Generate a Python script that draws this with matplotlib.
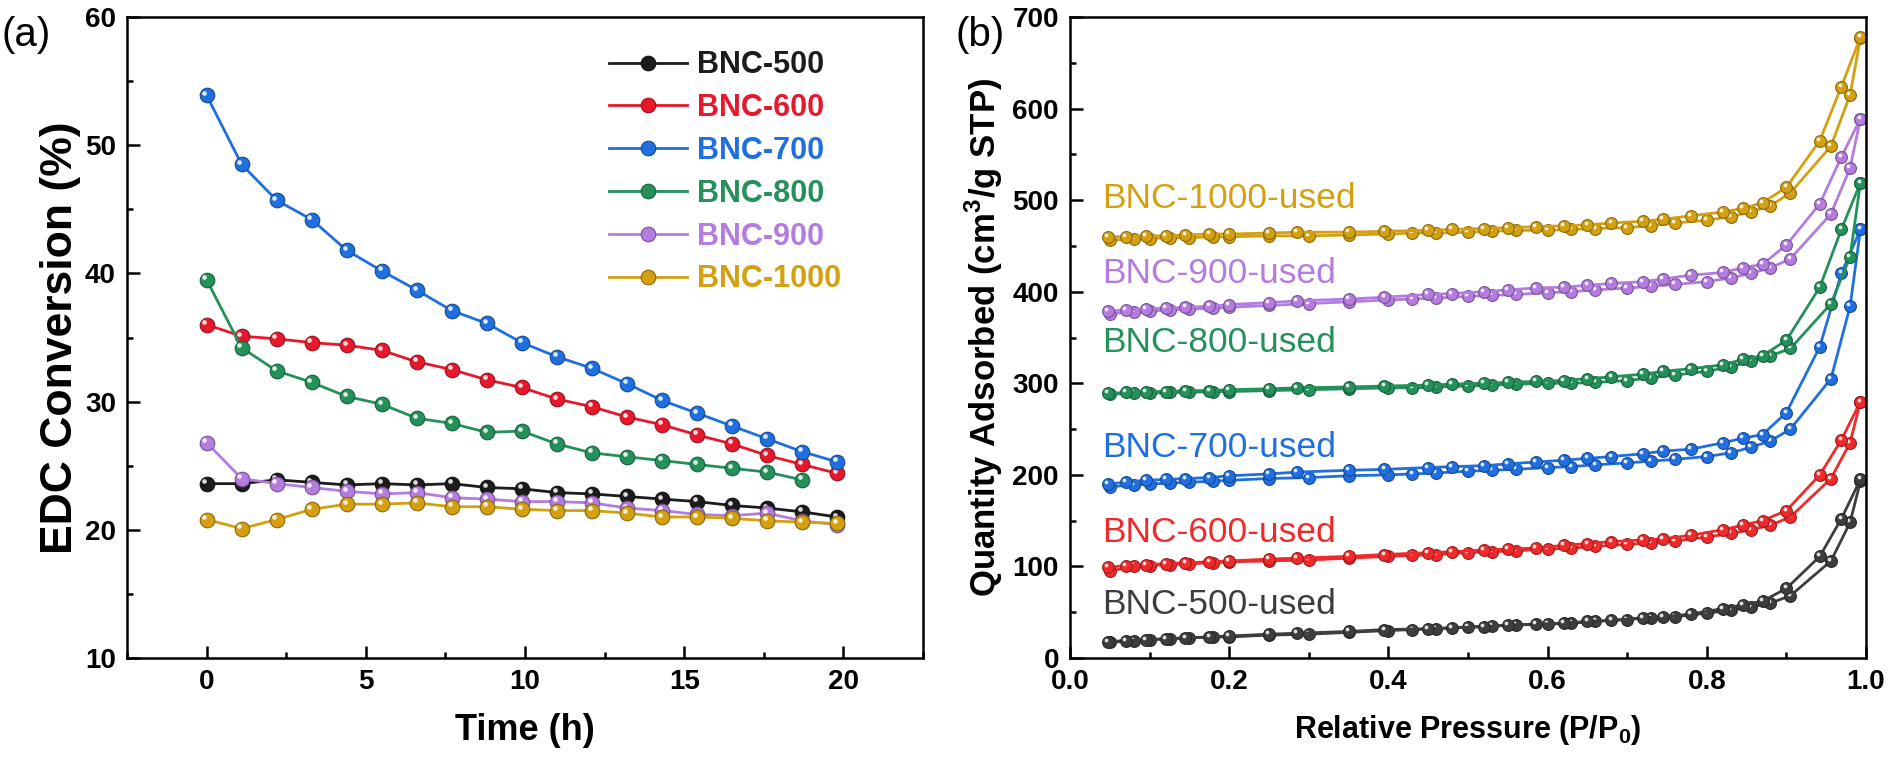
import numpy as np
import matplotlib
matplotlib.use("Agg")
import matplotlib.pyplot as plt
from matplotlib.transforms import offset_copy
from matplotlib.ticker import MultipleLocator

plt.rcParams['font.family'] = ['Liberation Sans', 'DejaVu Sans']
plt.rcParams['mathtext.fontset'] = 'custom'
plt.rcParams['mathtext.rm'] = 'Liberation Sans'
plt.rcParams['mathtext.bf'] = 'Liberation Sans:bold'

# ---- panel (a): EDC conversion vs time ----
time_h = [0, 1.1, 2.2, 3.3, 4.4, 5.5, 6.6, 7.7, 8.8, 9.9, 11.0, 12.1, 13.2,
          14.3, 15.4, 16.5, 17.6, 18.7, 19.8]
bnc500 = [23.6, 23.6, 23.9, 23.7, 23.5, 23.6, 23.5, 23.6, 23.3, 23.2, 22.9,
          22.8, 22.6, 22.4, 22.2, 21.9, 21.7, 21.4, 21.0]
bnc600 = [36.0, 35.1, 34.9, 34.6, 34.4, 34.0, 33.1, 32.5, 31.7, 31.1, 30.2,
          29.6, 28.8, 28.2, 27.4, 26.7, 25.8, 25.1, 24.4]
bnc700 = [53.9, 48.5, 45.7, 44.2, 41.8, 40.2, 38.7, 37.1, 36.1, 34.6, 33.5,
          32.6, 31.4, 30.1, 29.1, 28.1, 27.1, 26.1, 25.3]
bnc800 = [39.5, 34.2, 32.4, 31.5, 30.4, 29.8, 28.7, 28.3, 27.6, 27.7, 26.7,
          26.0, 25.7, 25.4, 25.1, 24.8, 24.5, 23.9]
bnc900 = [26.8, 24.0, 23.6, 23.3, 23.0, 22.8, 22.9, 22.5, 22.4, 22.2, 22.2,
          22.1, 21.7, 21.5, 21.2, 21.1, 21.3, 20.7, 20.4]
bnc1000 = [20.8, 20.1, 20.8, 21.6, 22.0, 22.0, 22.1, 21.8, 21.8, 21.6, 21.5,
           21.5, 21.3, 21.0, 21.0, 20.9, 20.7, 20.6, 20.5]

names_a = ['BNC-500', 'BNC-600', 'BNC-700', 'BNC-800', 'BNC-900', 'BNC-1000']
colors_a = ['#1c1c1c', '#e8182c', '#1f6fe0', '#24915a', '#b47be0', '#d4a00f']

# ---- panel (b): N2 isotherms of used catalysts ----
ads_x = [0.05, 0.08, 0.1, 0.125, 0.15, 0.18, 0.2, 0.25, 0.3, 0.35, 0.4, 0.43,
         0.46, 0.5, 0.53, 0.56, 0.6, 0.63, 0.66, 0.7, 0.73, 0.76, 0.8, 0.83,
         0.855, 0.88, 0.905, 0.956, 0.98, 0.993]
des_x = [0.993, 0.969, 0.942, 0.9, 0.87, 0.845, 0.82, 0.78, 0.745, 0.72, 0.68,
         0.65, 0.62, 0.585, 0.55, 0.52, 0.48, 0.45, 0.395, 0.35, 0.285, 0.25,
         0.2, 0.175, 0.145, 0.12, 0.095, 0.07, 0.048]

u500_ads = [17, 19, 20, 21, 22, 23, 23, 25, 26, 28, 30, 31, 32, 34, 35, 36, 37,
            38, 40, 42, 44, 45, 49, 52, 56, 60, 68, 106, 148, 193]
u500_des = [195, 152, 111, 76, 62, 58, 54, 48, 45, 44, 41, 40, 38, 37, 36, 34,
            33, 32, 31, 29, 27, 26, 24, 23, 22, 21, 20, 19, 18]
u600_ads = [95, 100, 101, 102, 103, 104, 105, 106, 107, 109, 111, 112, 113, 115,
            116, 117, 119, 120, 122, 124, 126, 128, 132, 136, 140, 145, 154, 196,
            235, 280]
u600_des = [280, 238, 200, 161, 150, 145, 140, 134, 130, 129, 127, 125, 123, 120,
            119, 118, 116, 115, 113, 111, 109, 108, 106, 105, 104, 103, 102, 101, 99]
u700_ads = [187, 189, 190, 191, 192, 193, 194, 196, 197, 199, 200, 201, 202, 204,
            205, 206, 208, 209, 211, 213, 215, 217, 220, 224, 230, 237, 250, 305,
            384, 468]
u700_des = [468, 420, 340, 268, 244, 240, 235, 228, 226, 223, 220, 218, 216, 214,
            212, 210, 209, 208, 206, 205, 203, 201, 199, 197, 196, 195, 194, 192, 190]
u800_ads = [288, 289, 289, 290, 290, 291, 291, 292, 293, 294, 295, 295, 296, 297,
            298, 299, 300, 300, 301, 303, 306, 309, 313, 318, 324, 330, 338, 387,
            438, 519]
u800_des = [519, 468, 405, 347, 330, 326, 320, 316, 313, 310, 307, 305, 303, 302,
            301, 300, 299, 298, 297, 296, 295, 294, 293, 292, 292, 291, 291, 290, 289]
u900_ads = [376, 378, 379, 380, 381, 382, 383, 385, 387, 389, 391, 392, 393, 395,
            396, 397, 399, 400, 402, 404, 406, 408, 411, 415, 420, 426, 436, 485,
            535, 589]
u900_des = [589, 547, 496, 451, 430, 426, 421, 418, 414, 411, 409, 407, 405, 404,
            402, 400, 398, 397, 394, 392, 390, 388, 386, 384, 383, 382, 381, 380, 379]
u1000_ads = [456, 458, 458, 459, 459, 460, 460, 461, 461, 462, 463, 464, 464, 465,
             466, 467, 467, 468, 469, 470, 472, 475, 478, 482, 487, 494, 508, 559,
             615, 677]
u1000_des = [678, 624, 565, 514, 497, 491, 487, 483, 479, 477, 475, 473, 472, 471,
             470, 469, 468, 467, 466, 465, 465, 464, 463, 463, 462, 461, 461, 460, 460]

names_b = ['BNC-500-used', 'BNC-600-used', 'BNC-700-used', 'BNC-800-used',
           'BNC-900-used', 'BNC-1000-used']
colors_b = ['#3d3d3d', '#f02a2a', '#1f6fe0', '#24915a', '#b47be0', '#d4a00f']
label_y_b = [58, 137, 230, 344, 420, 502]


def darker(c, f=0.65):
    r, g, b = matplotlib.colors.to_rgb(c)
    return (r * f, g * f, b * f)


def ball_line(ax, fig, x, y, color, ms, lw, label=None):
    ax.plot(x, y, '-o', color=color, lw=lw, ms=ms, mfc=color,
            mec=darker(color), mew=0.8, label=label)
    shine = offset_copy(ax.transData, fig=fig, x=-ms * 0.15, y=ms * 0.17, units='points')
    ax.plot(x, y, 'o', ls='none', ms=ms * 0.32, color='white', alpha=0.85,
            mew=0, transform=shine)


def style_axes(ax):
    for s in ax.spines.values():
        s.set_linewidth(1.8)
    ax.tick_params(which='both', direction='in', top=False, right=False,
                   labelsize=20, width=1.8, pad=8)
    ax.tick_params(which='major', length=9)
    ax.tick_params(which='minor', length=4.5)
    for t in ax.get_xticklabels() + ax.get_yticklabels():
        t.set_fontweight('bold')


fig = plt.figure(figsize=(18.9, 7.68), dpi=100)
ax1 = fig.add_axes([127 / 1890, 1 - 658 / 768, 796 / 1890, 641 / 768])
ax2 = fig.add_axes([1070 / 1890, 1 - 658 / 768, 796 / 1890, 641 / 768])

series_a = [bnc500, bnc600, bnc700, bnc800, bnc900, bnc1000]
for name, col, vals in zip(names_a, colors_a, series_a):
    ball_line(ax1, fig, time_h[:len(vals)], vals, col, ms=10.5, lw=2.0, label=name)

ax1.set_xlim(-2.5, 22.5)
ax1.set_ylim(10, 60)
ax1.xaxis.set_major_locator(MultipleLocator(5))
ax1.xaxis.set_minor_locator(MultipleLocator(2.5))
ax1.yaxis.set_major_locator(MultipleLocator(10))
ax1.yaxis.set_minor_locator(MultipleLocator(5))
style_axes(ax1)
ax1.set_xlabel('Time (h)', fontsize=26, fontweight='bold', labelpad=13)
ax1.set_ylabel('EDC Conversion (%)', fontsize=32, fontweight='bold', labelpad=3)
leg = ax1.legend(loc='upper left', bbox_to_anchor=(0.586, 0.972), frameon=False,
                 fontsize=22, handlelength=2.56, labelspacing=0.42,
                 handletextpad=0.33, borderpad=0)
for txt, col in zip(leg.get_texts(), colors_a):
    txt.set_color(col)
    txt.set_fontweight('bold')
fig.text(2 / 1890, 1 - 35 / 768, '(a)', fontsize=29, va='center', ha='left')

ads_sets = [u500_ads, u600_ads, u700_ads, u800_ads, u900_ads, u1000_ads]
des_sets = [u500_des, u600_des, u700_des, u800_des, u900_des, u1000_des]
for name, col, ya, yd, ly in zip(names_b, colors_b, ads_sets, des_sets, label_y_b):
    ball_line(ax2, fig, ads_x, ya, col, ms=8.5, lw=2.0)
    ball_line(ax2, fig, des_x, yd, col, ms=8.5, lw=2.0)
    ax2.text(0.04, ly, name, color=col, fontsize=25.5, va='center', ha='left')

ax2.set_xlim(0, 1.0)
ax2.set_ylim(0, 700)
ax2.xaxis.set_major_locator(MultipleLocator(0.2))
ax2.xaxis.set_minor_locator(MultipleLocator(0.1))
ax2.yaxis.set_major_locator(MultipleLocator(100))
ax2.yaxis.set_minor_locator(MultipleLocator(50))
ax2.xaxis.set_major_formatter(matplotlib.ticker.FormatStrFormatter('%.1f'))
style_axes(ax2)
ax2.set_xlabel(r'Relative Pressure (P/P$_\mathbf{0}$)', fontsize=22,
               fontweight='bold', labelpad=13)
ax2.set_ylabel('Quantity Adsorbed (cm$^\\mathbf{3}$/g STP)', fontsize=25,
               fontweight='bold', labelpad=5)
fig.text(955 / 1890, 1 - 35 / 768, '(b)', fontsize=29, va='center', ha='left')

fig.savefig('out.png', dpi=100)
